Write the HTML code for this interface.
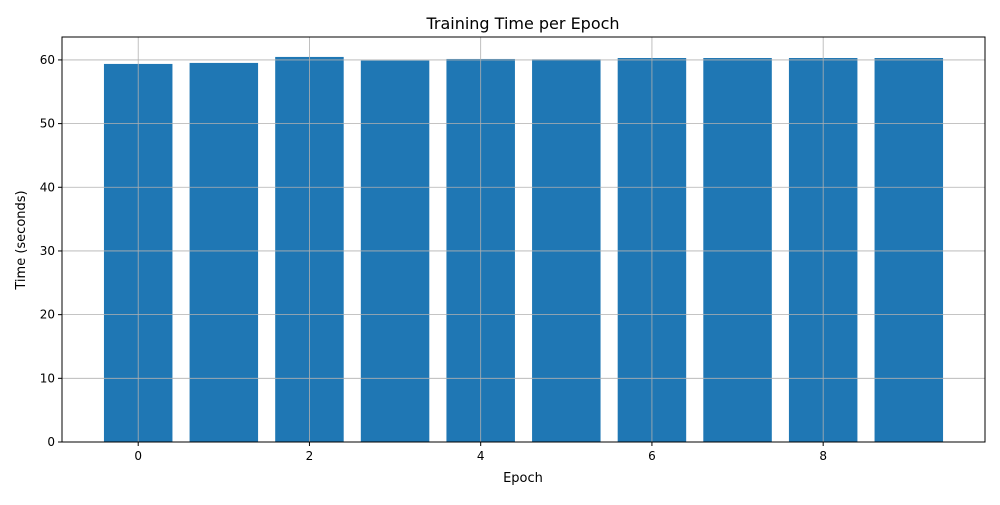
<!DOCTYPE html>
<html><head><meta charset="utf-8"><style>
body{margin:0;background:#fff;}
svg text{font-family:"DejaVu Sans","Liberation Sans",sans-serif;}
</style></head><body>
<svg id="chart" width="1000" height="500" xmlns="http://www.w3.org/2000/svg">
<rect width="1000" height="500" fill="#fff"/>
<g id="bars"></g><g id="grid"></g><g id="ticks"></g>
<rect x="62" y="37" width="923" height="405" fill="none" stroke="#000" stroke-width="1"/>
<text x="523" y="29" font-size="16" text-anchor="middle">Training Time per Epoch</text>
<text x="523" y="482" font-size="13" text-anchor="middle">Epoch</text>
<text transform="translate(25,240) rotate(-90)" font-size="13" text-anchor="middle">Time (seconds)</text>
</svg>
<script>
const epochs=[0,1,2,3,4,5,6,7,8,9];
const times=[59.37,59.53,60.47,59.9,60.15,60.1,60.3,60.3,60.3,60.3];
const xTicks=[0,2,4,6,8];
const yTicks=[0,10,20,30,40,50,60];
const L=62,R=985,T=37,B=442;
const xmin=-0.89,xmax=9.89,ymin=0,ymax=63.6;
const xs=v=>L+(v-xmin)/(xmax-xmin)*(R-L);
const ys=v=>B-(v-ymin)/(ymax-ymin)*(B-T);
const NS="http://www.w3.org/2000/svg";
function mk(t,a,p){const e=document.createElementNS(NS,t);for(const k in a)e.setAttribute(k,a[k]);p.appendChild(e);return e;}
const bars=document.getElementById('bars'),grid=document.getElementById('grid'),ticks=document.getElementById('ticks');
const bw=xs(0.4)-xs(-0.4);
epochs.forEach((e,i)=>{
 const r=mk('rect',{x:xs(e-0.4),y:ys(times[i]),width:bw,height:ys(0)-ys(times[i]),fill:'#1f77b4'},bars);
 
 
});
xTicks.forEach(v=>{
 const x=xs(v);
 const g=mk('line',{x1:x,x2:x,y1:T,y2:B,stroke:'#b0b0b0','stroke-width':0.8},grid);
 
 
 mk('line',{x1:x,x2:x,y1:B,y2:B+4,stroke:'#000'},ticks);
 const t=mk('text',{x:x,y:B+18,'font-size':12,'text-anchor':'middle'},ticks);
 t.textContent=v;
 
 
});
yTicks.forEach(v=>{
 const y=ys(v);
 const g=mk('line',{x1:L,x2:R,y1:y,y2:y,stroke:'#b0b0b0','stroke-width':0.8},grid);
 
 
 mk('line',{x1:L-4,x2:L,y1:y,y2:y,stroke:'#000'},ticks);
 const t=mk('text',{x:L-7,y:y+4,'font-size':12,'text-anchor':'end'},ticks);
 t.textContent=v;
 
 
});
</script>
</body></html>
